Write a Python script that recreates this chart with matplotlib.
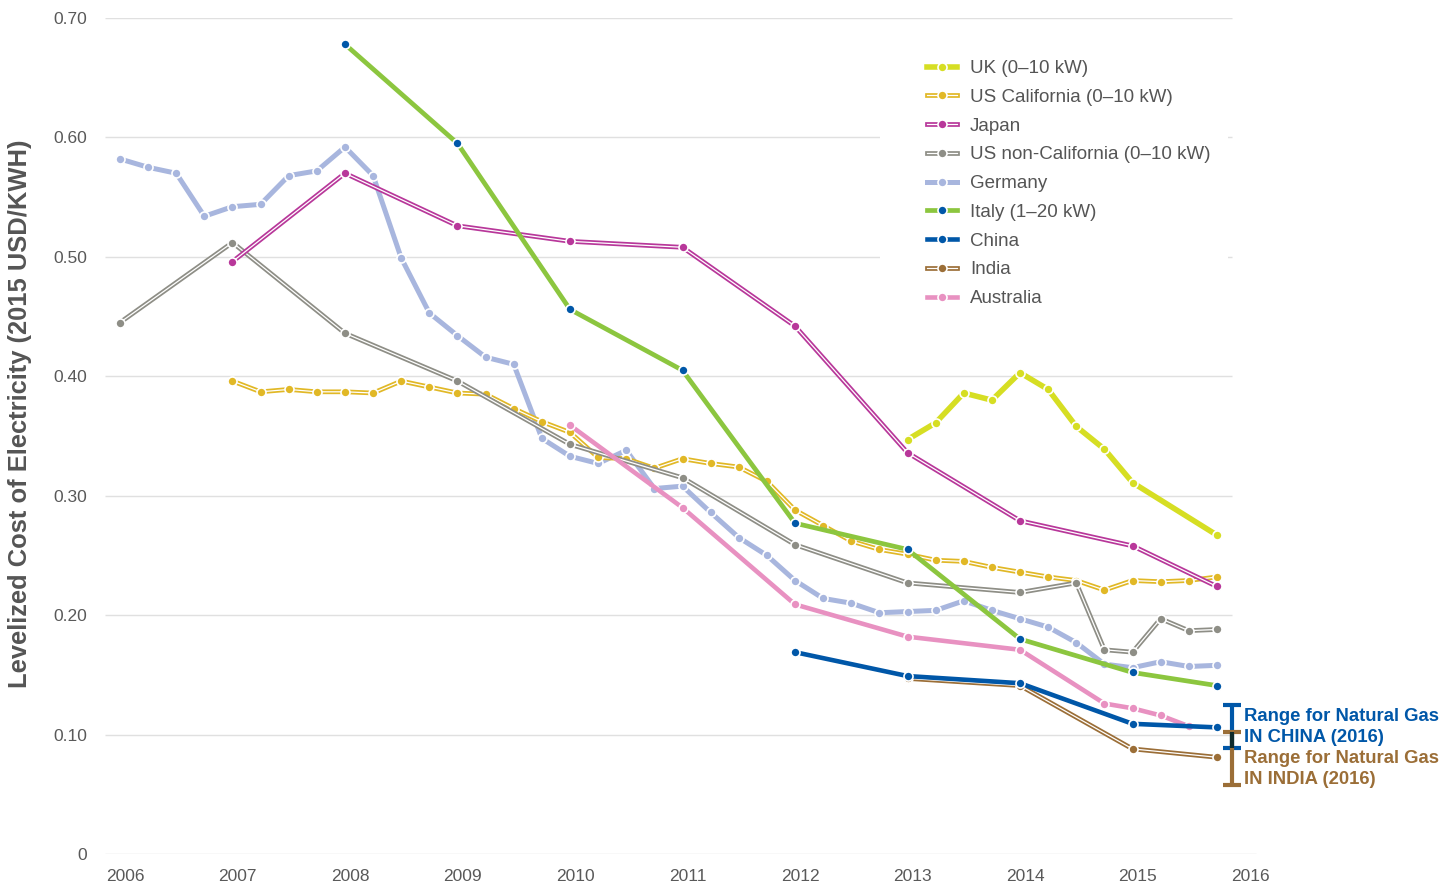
import numpy as np
import matplotlib
matplotlib.use("Agg")
import matplotlib.pyplot as plt
from matplotlib.patches import Rectangle
from matplotlib.transforms import ScaledTranslation

plt.rcParams['font.family'] = ['Liberation Sans', 'DejaVu Sans']

# ---- data ----
years = list(range(2006, 2017))
yticks = [0, 0.10, 0.20, 0.30, 0.40, 0.50, 0.60, 0.70]
ytick_labels = ['0', '0.10', '0.20', '0.30', '0.40', '0.50', '0.60', '0.70']

uk_x = [2013, 2013.25, 2013.5, 2013.75, 2014, 2014.25, 2014.5, 2014.75, 2015, 2015.75]
uk_y = [0.347, 0.361, 0.386, 0.380, 0.403, 0.389, 0.358, 0.339, 0.311, 0.267]

cal_x = np.arange(2007, 2015.8, 0.25)
cal_y = [0.396, 0.387, 0.389, 0.387, 0.387, 0.386, 0.396, 0.391, 0.386, 0.385,
         0.373, 0.362, 0.353, 0.332, 0.331, 0.323, 0.331, 0.327, 0.324, 0.312,
         0.288, 0.275, 0.262, 0.255, 0.251, 0.246, 0.245, 0.240, 0.236, 0.232,
         0.229, 0.221, 0.229, 0.228, 0.229, 0.232]

japan_x = [2007, 2008, 2009, 2010, 2011, 2012, 2013, 2014, 2015, 2015.75]
japan_y = [0.496, 0.570, 0.526, 0.513, 0.508, 0.442, 0.336, 0.279, 0.258, 0.224]

noncal_x = [2006, 2007, 2008, 2009, 2010, 2011, 2012, 2013, 2014, 2014.5,
            2014.75, 2015, 2015.25, 2015.5, 2015.75]
noncal_y = [0.445, 0.512, 0.436, 0.396, 0.343, 0.315, 0.259, 0.227, 0.219, 0.227,
            0.171, 0.169, 0.197, 0.187, 0.188]

germany_x = np.arange(2006, 2015.8, 0.25)
germany_y = [0.582, 0.575, 0.570, 0.534, 0.542, 0.544, 0.568, 0.572, 0.592, 0.568,
             0.499, 0.453, 0.434, 0.416, 0.410, 0.348, 0.333, 0.327, 0.338, 0.306,
             0.308, 0.286, 0.265, 0.250, 0.229, 0.214, 0.210, 0.202, 0.203, 0.204,
             0.212, 0.204, 0.197, 0.190, 0.177, 0.159, 0.156, 0.161, 0.157, 0.158]

italy_x = [2008, 2009, 2010, 2011, 2012, 2013, 2014, 2015, 2015.75]
italy_y = [0.678, 0.595, 0.456, 0.405, 0.277, 0.255, 0.180, 0.152, 0.141]

china_x = [2012, 2013, 2014, 2015, 2015.75]
china_y = [0.169, 0.149, 0.143, 0.109, 0.106]

india_x = [2013, 2014, 2015, 2015.75]
india_y = [0.147, 0.141, 0.088, 0.081]

aus_x = [2010, 2011, 2012, 2013, 2014, 2014.75, 2015, 2015.25, 2015.5]
aus_y = [0.359, 0.290, 0.209, 0.182, 0.171, 0.126, 0.122, 0.116, 0.107]

# natural gas ranges, 2016
gas_china = (0.089, 0.125)
gas_india = (0.058, 0.102)

BLUE = '#0057a8'
BROWN = '#9b6e37'

# ---- figure ----
W, H = 1456, 888
fig = plt.figure(figsize=(W / 100, H / 100), dpi=100)
ax = fig.add_axes([105 / W, 34 / H, 1155 / W, 836 / H])
ax.set_xlim(2005.867, 2016.133)
ax.set_ylim(0, 0.70)
for s in ax.spines.values():
    s.set_visible(False)

ax.hlines(yticks[1:], 2005.867, 2015.88, color='#e0e0e0', lw=1, zorder=1)
ax.hlines([0], 2005.867, 2016.1, color='#e0e0e0', lw=1, zorder=1)
# white area behind the legend
ax.add_patch(Rectangle((2012.756, 0.4556), 3.093, 0.226, facecolor='white',
                       edgecolor='none', zorder=1.5))

handles = []


def draw(x, y, color, mcolor, kind, lw, z):
    parts = []
    if kind == 'double':
        parts += ax.plot(x, y, color=color, lw=3.4, zorder=z, clip_on=False)
        parts += ax.plot(x, y, color='white', lw=0.9, zorder=z + 0.1, clip_on=False)
    else:
        parts += ax.plot(x, y, color=color, lw=lw, zorder=z, clip_on=False)
    parts += ax.plot(x, y, ls='none', marker='o', ms=6.5, mfc=mcolor, mec='white',
                     mew=1.2, zorder=z + 0.2, clip_on=False)
    handles.append(tuple(parts))


draw(uk_x, uk_y, '#d6de23', '#d6de23', 'thick', 4.0, 3)
draw(cal_x, cal_y, '#e1b826', '#e1b826', 'double', 0, 4)
draw(japan_x, japan_y, '#b8379a', '#b8379a', 'double', 0, 5)
draw(noncal_x, noncal_y, '#8e8e86', '#8e8e86', 'double', 0, 4.5)
draw(germany_x, germany_y, '#a8b6de', '#a8b6de', 'thick', 3.6, 3.5)
draw(italy_x, italy_y, '#8cc63f', BLUE, 'thick', 3.4, 6)
draw(china_x, china_y, BLUE, BLUE, 'thick', 3.3, 7)
draw(india_x, india_y, BROWN, BROWN, 'double', 0, 6.5)
draw(aus_x, aus_y, '#e891c1', '#e891c1', 'thick', 3.3, 5.5)

labels = ['UK (0\u201310 kW)', 'US California (0\u201310 kW)', 'Japan',
          'US non-California (0\u201310 kW)', 'Germany', 'Italy (1\u201320 kW)',
          'China', 'India', 'Australia']
leg = ax.legend(handles, labels, loc='upper left', bbox_to_anchor=(927 / W, 1 - 60 / H),
                bbox_transform=fig.transFigure, frameon=False, borderpad=0,
                borderaxespad=0, numpoints=1, handlelength=1.6, handletextpad=0.7,
                labelspacing=0.62, fontsize=13.5)
for t in leg.get_texts():
    t.set_color('#555555')
leg.set_zorder(20)

# natural gas range bars
bx = 2015.88
cw = 0.08
ax.vlines(bx, *gas_china, color=BLUE, lw=3, zorder=10, clip_on=False)
ax.hlines(gas_china, bx - cw, bx + cw, color=BLUE, lw=3, zorder=10, clip_on=False)
ax.vlines(bx, *gas_india, color=BROWN, lw=3, zorder=10, clip_on=False)
ax.hlines(gas_india, bx - cw, bx + cw, color=BROWN, lw=3, zorder=10, clip_on=False)
ax.vlines(bx, gas_india[1], gas_china[0], color='#0f2b2c', lw=3, zorder=11, clip_on=False)

fig.text(1244 / W, 1 - 727 / H, 'Range for Natural Gas\nIN CHINA (2016)', color=BLUE,
         fontsize=13.3, fontweight='bold', va='center', ha='left', linespacing=1.3)
fig.text(1244 / W, 1 - 769 / H, 'Range for Natural Gas\nIN INDIA (2016)', color=BROWN,
         fontsize=13.3, fontweight='bold', va='center', ha='left', linespacing=1.3)

# axes ticks
ax.set_xticks(years)
ax.set_xticklabels([str(y) for y in years])
ax.set_yticks(yticks)
ax.set_yticklabels(ytick_labels)
ax.tick_params(axis='both', length=0, labelsize=12.5, labelcolor='#595959')
ax.tick_params(axis='y', pad=13)
ax.tick_params(axis='x', pad=11)
for lab in ax.get_xticklabels():
    lab.set_transform(lab.get_transform() + ScaledTranslation(5 / 100, 0, fig.dpi_scale_trans))

fig.text(20 / W, 1 - 414 / H, 'Levelized Cost of Electricity (2015 USD/KWH)',
         rotation=90, ha='center', va='center', fontsize=18.4, fontweight='bold',
         color='#555555')

fig.savefig('out.png', dpi=100)
